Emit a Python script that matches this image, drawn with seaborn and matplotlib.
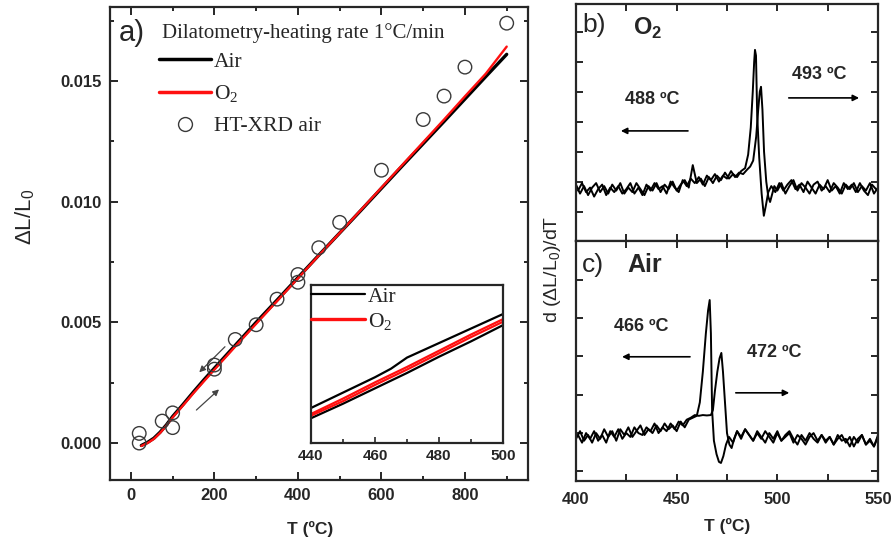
import numpy as np
import pandas as pd
import matplotlib
matplotlib.use("Agg")
import matplotlib.pyplot as plt
from matplotlib.lines import Line2D
from matplotlib.ticker import MultipleLocator, NullFormatter
import seaborn as sns

# ---------------- data ----------------
# panel a: dilatometry, heating 1 C/min
dil_T = [25, 40, 55, 70, 85, 100, 125, 150, 175, 200, 250, 300, 350, 400, 450,
         500, 550, 600, 650, 700, 750, 800, 850, 900]
dil_air = [-0.0001, 0.00003, 0.0002, 0.00045, 0.00075, 0.0011, 0.0016, 0.00212, 0.00262,
           0.0031, 0.00405, 0.0050, 0.00592, 0.00685, 0.00778, 0.0087, 0.00962, 0.01055,
           0.01148, 0.0124, 0.01332, 0.01425, 0.01518, 0.0161]
dil_o2 = [-0.00012, 0.0, 0.00017, 0.00042, 0.00072, 0.00106, 0.00156, 0.00207, 0.00256,
          0.00304, 0.004, 0.00494, 0.00588, 0.00682, 0.00777, 0.0087, 0.00964, 0.01058,
          0.01152, 0.01246, 0.0134, 0.01436, 0.0153, 0.01642]
# HT-XRD air points
xrd_T = [20, 20, 75, 100, 100, 200, 200, 250, 300, 350, 400, 400, 450, 500, 600, 700, 750, 800, 900]
xrd_v = [0.0004, 0.0, 0.00091, 0.00125, 0.00064, 0.00323, 0.00306, 0.00429, 0.0049, 0.00596,
         0.00698, 0.00666, 0.00809, 0.00914, 0.0113, 0.0134, 0.01437, 0.01557, 0.01739]
# inset 440-500 C
ins_T = [440, 450, 460, 465, 470, 480, 490, 500]
ins_air_up = [0.00790, 0.00808, 0.00826, 0.00836, 0.00849, 0.00866, 0.00883, 0.00900]
ins_o2_a = [0.00783, 0.00801, 0.00820, 0.00829, 0.00838, 0.00857, 0.00876, 0.00894]
ins_o2_b = [0.00781, 0.00798, 0.00817, 0.00826, 0.00835, 0.00854, 0.00873, 0.00891]
ins_air_lo = [0.00778, 0.00795, 0.00813, 0.00822, 0.00831, 0.00850, 0.00868, 0.00887]

# panel b: O2 derivative, two traces
b1_T = [400, 402, 404, 406, 408, 410, 412, 414, 416, 418, 420, 422, 424, 426, 428, 430, 432,
        434, 436, 438, 440, 442, 444, 446, 448, 450, 452, 454, 456, 458, 460, 462, 464, 466,
        468, 470, 472, 474, 476, 478, 480, 482, 484,
        485.5, 486.8, 487.8, 488.5, 488.9, 489.4, 490.0, 491.0, 492.2, 493.3, 494.3, 495.5,
        497, 499, 501, 503, 505, 507, 509, 511, 513, 515, 517, 519, 521, 523, 525, 527, 529,
        531, 533, 535, 537, 539, 541, 543, 545, 547, 549]
b1_v = [-0.10, -0.40, -0.15, -0.45, -0.20, -0.05, -0.35, -0.15, -0.40, -0.10, -0.30, -0.05,
        -0.40, -0.20, -0.35, -0.05, -0.25, -0.45, -0.15, -0.30, -0.05, -0.35, -0.10, -0.25,
        0.00, -0.30, -0.10, 0.05, -0.20, 0.55, -0.05, 0.10, -0.15, 0.15, -0.05, 0.20, 0.05,
        0.30, 0.10, 0.25, 0.15, 0.35, 0.45,
        0.9, 1.8, 3.0, 4.0, 4.39, 4.2, 2.2, 0.8, -0.4, -1.14, -0.8, -0.35,
        -0.15, -0.35, -0.05, -0.30, -0.10, 0.05, -0.25, -0.10, -0.35, 0.00, -0.20, -0.40,
        -0.10, -0.25, 0.05, -0.30, -0.15, -0.40, -0.05, -0.25, -0.10, -0.35, -0.05, -0.30,
        -0.45, -0.10, -0.25]
b2_T = [401, 403, 405, 407, 409, 411, 413, 415, 417, 419, 421, 423, 425, 427, 429, 431, 433,
        435, 437, 439, 441, 443, 445, 447, 449, 451, 453, 455, 457, 459, 461, 463, 465, 467,
        469, 471, 473, 475, 477, 479, 481, 483, 485,
        486.5, 488, 489.5, 490.5, 491.3, 491.9, 492.6, 493.4, 494.5, 495.5, 496.4, 497.3, 498.5,
        500, 502, 504, 506, 508, 510, 512, 514, 516, 518, 520, 522, 524, 526, 528, 530, 532,
        534, 536, 538, 540, 542, 544, 546, 548, 550]
b2_v = [-0.30, -0.05, -0.35, -0.20, -0.50, -0.25, -0.10, -0.45, -0.20, -0.35, -0.15, -0.40,
        -0.25, -0.05, -0.40, -0.20, -0.45, -0.10, -0.30, -0.05, -0.25, -0.15, -0.40, 0.00,
        -0.20, -0.35, 0.05, -0.15, 0.10, -0.05, 0.15, -0.10, 0.20, 0.05, 0.25, 0.00, 0.20,
        0.10, 0.35, 0.15, 0.30, 0.25, 0.40,
        0.5, 0.7, 1.5, 2.4, 3.0, 3.16, 2.4, 1.0, 0.0, -0.5, -0.68, -0.45, -0.15,
        -0.30, -0.05, -0.40, -0.15, 0.05, -0.30, -0.05, -0.20, -0.40, -0.10, 0.00, -0.30,
        -0.15, -0.35, -0.05, -0.20, -0.40, -0.10, -0.25, -0.05, -0.35, -0.15, -0.30, -0.05,
        -0.40, -0.20]

# panel c: Air derivative, two traces
c1_T = [400, 402, 404, 406, 408, 410, 412, 414, 416, 418, 420, 422, 424, 426, 428, 430, 432,
        434, 436, 438, 440, 442, 444, 446, 448, 450, 452, 454, 456, 458,
        460, 461.5, 463, 464.5, 465.6, 466.4, 467.0, 467.6, 468.5, 469.8, 471, 472, 473.2,
        474.5, 476,
        478, 480, 482, 484, 486, 488, 490, 492, 494, 496, 498, 500, 502, 504, 506, 508, 510,
        512, 514, 516, 518, 520, 522, 524, 526, 528, 530, 532, 534, 536, 538, 540, 542, 544,
        546, 548, 550]
c1_v = [-0.15, 0.05, -0.20, -0.05, -0.25, 0.00, -0.15, 0.10, -0.10, 0.05, -0.20, 0.10,
        -0.05, 0.15, -0.10, 0.05, 0.20, -0.05, 0.10, 0.00, 0.20, 0.05, 0.25, 0.10, 0.20,
        0.05, 0.30, 0.15, 0.35, 0.40,
        0.45, 0.8, 1.6, 2.6, 3.2, 3.47, 2.6, 0.6, -0.2, -0.55, -0.75, -0.78, -0.6, -0.3, -0.1,
        -0.25, 0.05, -0.15, 0.10, -0.05, -0.20, 0.05, -0.10, -0.25, 0.00, -0.15, 0.05, -0.20,
        -0.10, 0.00, -0.25, -0.05, -0.15, -0.30, -0.10, 0.00, -0.20, -0.05, -0.25, -0.10,
        -0.30, -0.05, -0.20, -0.15, -0.35, -0.10, -0.25, -0.05, -0.30, -0.15, -0.35, -0.05]
c2_T = [401, 403, 405, 407, 409, 411, 413, 415, 417, 419, 421, 423, 425, 427, 429, 431, 433,
        435, 437, 439, 441, 443, 445, 447, 449, 451, 453, 455,
        457, 459, 461, 463, 465, 467, 468, 469, 470.2, 471.3, 472.2, 473.0, 474.0, 475.0,
        476.2, 477.3, 478.5, 480,
        482, 484, 486, 488, 490, 492, 494, 496, 498, 500, 502, 504, 506, 508, 510, 512, 514,
        516, 518, 520, 522, 524, 526, 528, 530, 532, 534, 536, 538, 540, 542, 544, 546, 548,
        550]
c2_v = [-0.05, -0.25, 0.00, -0.15, 0.05, -0.20, -0.05, -0.25, 0.05, -0.10, 0.10, -0.15,
        0.00, -0.10, 0.15, 0.00, -0.05, 0.15, 0.05, 0.25, 0.00, 0.15, 0.05, 0.25, 0.10, 0.30,
        0.20, 0.35,
        0.40, 0.47, 0.45, 0.47, 0.46, 0.47, 0.6, 1.1, 1.6, 1.95, 2.09, 1.6, 0.8, 0.0, -0.3,
        -0.39, -0.15, 0.05,
        -0.10, 0.10, -0.05, -0.20, 0.00, -0.15, 0.05, -0.10, -0.25, 0.00, -0.20, -0.05, 0.05,
        -0.15, -0.30, -0.05, -0.20, 0.00, -0.15, -0.25, -0.05, -0.20, -0.10, -0.30, -0.15,
        -0.05, -0.25, -0.10, -0.35, -0.15, -0.05, -0.30, -0.20, -0.35, -0.10]

# ---------------- style ----------------
sns.set_style("ticks")
plt.rcParams["font.family"] = ["Liberation Sans", "DejaVu Sans"]
plt.rcParams["mathtext.fontset"] = "custom"
plt.rcParams["mathtext.rm"] = "Liberation Serif"
plt.rcParams["mathtext.sf"] = "Liberation Sans"
plt.rcParams["mathtext.bf"] = "Liberation Sans:bold"
plt.rcParams["axes.linewidth"] = 1.6

W, H = 895, 543
fig = plt.figure(figsize=(W / 100, H / 100), dpi=100)


def box(l, t, r, b):
    return [l / W, 1 - b / H, (r - l) / W, (b - t) / H]


def style_ticks(ax, major_len=5.5, minor_len=3, size=12):
    ax.tick_params(which="both", direction="in", top=True, right=True, width=1.4)
    ax.tick_params(which="major", length=major_len, pad=6)
    ax.tick_params(which="minor", length=minor_len)
    for lab in ax.get_xticklabels() + ax.get_yticklabels():
        lab.set_fontsize(size)
        lab.set_fontweight("bold")


# ---------------- panel a ----------------
ax = fig.add_axes(box(110, 7, 528, 480))
sns.lineplot(x=dil_T, y=dil_air, ax=ax, color="black", lw=2.4, legend=False)
sns.lineplot(x=dil_T, y=dil_o2, ax=ax, color="#ff1010", lw=1.7, legend=False)
sns.scatterplot(x=xrd_T, y=xrd_v, ax=ax, marker="o", s=95, facecolor="none",
                edgecolor="#3a3a3a", linewidth=1.0, legend=False, zorder=5)
ax.set_xlim(-50, 951)
ax.set_ylim(-0.00153, 0.01806)
ax.xaxis.set_major_locator(MultipleLocator(200))
ax.xaxis.set_minor_locator(MultipleLocator(100))
ax.yaxis.set_minor_locator(MultipleLocator(0.0025))
ax.set_yticks([0, 0.005, 0.010, 0.015])
ax.set_yticklabels(["0.000", "0.005", "0.010", "0.015"])
ax.set_xlabel("")
ax.set_ylabel("")
style_ticks(ax)

ax.annotate("", xy=(159, 0.00285), xytext=(230, 0.00407),
            arrowprops=dict(arrowstyle="-|>", color="#444444", lw=0.9, mutation_scale=9))
ax.annotate("", xy=(216, 0.0023), xytext=(152, 0.00129),
            arrowprops=dict(arrowstyle="-|>", color="#444444", lw=0.9, mutation_scale=9))

ax.text(0.02, 0.945, "a)", transform=ax.transAxes, fontsize=21, va="center", ha="left")
ax.text(0.125, 0.945, "Dilatometry-heating rate 1°C/min", transform=ax.transAxes,
        fontsize=15, family="Liberation Serif", va="center", ha="left")
handles = [Line2D([], [], color="black", lw=2.5),
           Line2D([], [], color="#ff1010", lw=2.5),
           Line2D([], [], color="#3a3a3a", marker="o", ls="none", markersize=10,
                  markerfacecolor="none", markeredgewidth=1.0)]
leg = ax.legend(handles, ["Air", "O$_2$", "HT-XRD air"], loc="upper left",
                bbox_to_anchor=(0.117, 0.905), frameon=False, handlelength=2.4,
                handletextpad=0.15, labelspacing=0.52, borderaxespad=0, borderpad=0,
                prop=dict(family="Liberation Serif", size=15.5))

fig.text(25 / W, 1 - 217 / H, "ΔL/L$_\\mathsf{0}$", rotation=90, fontsize=16,
         ha="center", va="center")
fig.text(310 / W, 1 - 529 / H, "T (ºC)", fontsize=12.5, fontweight="bold",
         ha="center", va="center")

# ---------------- inset ----------------
axi = fig.add_axes(box(311, 285, 503, 443))
sns.lineplot(x=ins_T, y=ins_air_up, ax=axi, color="black", lw=1.6, legend=False)
sns.lineplot(x=ins_T, y=ins_air_lo, ax=axi, color="black", lw=1.6, legend=False)
sns.lineplot(x=ins_T, y=ins_o2_a, ax=axi, color="#ff1010", lw=1.6, legend=False)
sns.lineplot(x=ins_T, y=ins_o2_b, ax=axi, color="#ff1010", lw=1.6, legend=False)
axi.set_xlim(440, 500)
axi.set_ylim(0.00749, 0.00934)
axi.set_xticks([440, 460, 480, 500])
axi.xaxis.set_minor_locator(MultipleLocator(10))
axi.set_yticks([])
axi.set_xlabel("")
axi.set_ylabel("")
axi.tick_params(which="both", direction="in", width=1.2)
axi.tick_params(which="major", length=4, pad=4)
axi.tick_params(which="minor", length=3)
for lab in axi.get_xticklabels():
    lab.set_fontsize(11)
    lab.set_fontweight("bold")
ih = [Line2D([], [], color="black", lw=1.6), Line2D([], [], color="#ff1010", lw=2.4)]
axi.legend(ih, ["Air", "O$_2$"], loc="upper left", bbox_to_anchor=(0.0, 0.99),
           frameon=False, handlelength=2.5, handletextpad=0.15, labelspacing=0.2,
           borderaxespad=0, borderpad=0, prop=dict(family="Liberation Serif", size=15.5))

# ---------------- panel b ----------------
axb = fig.add_axes(box(576, 4, 878, 241))
sns.lineplot(x=b1_T, y=b1_v, ax=axb, color="black", lw=1.4, legend=False)
sns.lineplot(x=b2_T, y=b2_v, ax=axb, color="black", lw=1.4, legend=False)
axb.set_xlim(400, 550)
axb.set_ylim(-1.98, 5.92)
axb.set_xticks([400, 450, 500, 550])
axb.xaxis.set_minor_locator(MultipleLocator(25))
axb.set_yticks([-1, 0, 1, 2, 3, 4, 5])
axb.xaxis.set_major_formatter(NullFormatter())
axb.yaxis.set_major_formatter(NullFormatter())
axb.set_xlabel("")
axb.set_ylabel("")
style_ticks(axb, 5, 5)
axb.text(0.02, 0.91, "b)", transform=axb.transAxes, fontsize=19, va="center", ha="left")
axb.text(0.19, 0.895, "O$_\\mathbf{2}$", transform=axb.transAxes, fontsize=17,
         fontweight="bold", va="center", ha="left")
axb.text(437.7, 2.72, "488 ºC", fontsize=13, fontweight="bold", ha="center", va="center")
axb.annotate("", xy=(420.9, 1.69), xytext=(457, 1.69),
             arrowprops=dict(arrowstyle="-|>", color="black", lw=1.2, mutation_scale=9))
axb.text(520.7, 3.56, "493 ºC", fontsize=13, fontweight="bold", ha="center", va="center")
axb.annotate("", xy=(542, 2.79), xytext=(504.3, 2.79),
             arrowprops=dict(arrowstyle="-|>", color="black", lw=1.2, mutation_scale=9))

# ---------------- panel c ----------------
axc = fig.add_axes(box(576, 241, 878, 481))
sns.lineplot(x=c1_T, y=c1_v, ax=axc, color="black", lw=1.4, legend=False)
sns.lineplot(x=c2_T, y=c2_v, ax=axc, color="black", lw=1.4, legend=False)
axc.set_xlim(400, 550)
axc.set_ylim(-1.25, 5.01)
axc.set_xticks([400, 450, 500, 550])
axc.xaxis.set_minor_locator(MultipleLocator(25))
axc.set_yticks([-1, 0, 1, 2, 3, 4])
axc.yaxis.set_major_formatter(NullFormatter())
axc.set_xlabel("")
axc.set_ylabel("")
style_ticks(axc, 5, 5)
axc.tick_params(axis="x", pad=8)
axc.text(0.02, 0.9, "c)", transform=axc.transAxes, fontsize=19, va="center", ha="left")
axc.text(0.17, 0.9, "Air", transform=axc.transAxes, fontsize=18, fontweight="bold",
         va="center", ha="left")
axc.text(432.3, 2.77, "466 ºC", fontsize=13, fontweight="bold", ha="center", va="center")
axc.annotate("", xy=(421.5, 1.99), xytext=(458, 1.99),
             arrowprops=dict(arrowstyle="-|>", color="black", lw=1.2, mutation_scale=9))
axc.text(498.3, 2.09, "472 ºC", fontsize=13, fontweight="bold", ha="center", va="center")
axc.annotate("", xy=(507.3, 1.05), xytext=(478, 1.05),
             arrowprops=dict(arrowstyle="-|>", color="black", lw=1.2, mutation_scale=9))

fig.text(553 / W, 1 - 269 / H, "d (ΔL/L$_\\mathsf{0}$)/dT", rotation=90, fontsize=14,
         ha="center", va="center")
fig.text(727 / W, 1 - 526 / H, "T (ºC)", fontsize=12.5, fontweight="bold",
         ha="center", va="center")

fig.savefig("out.png", dpi=100)
